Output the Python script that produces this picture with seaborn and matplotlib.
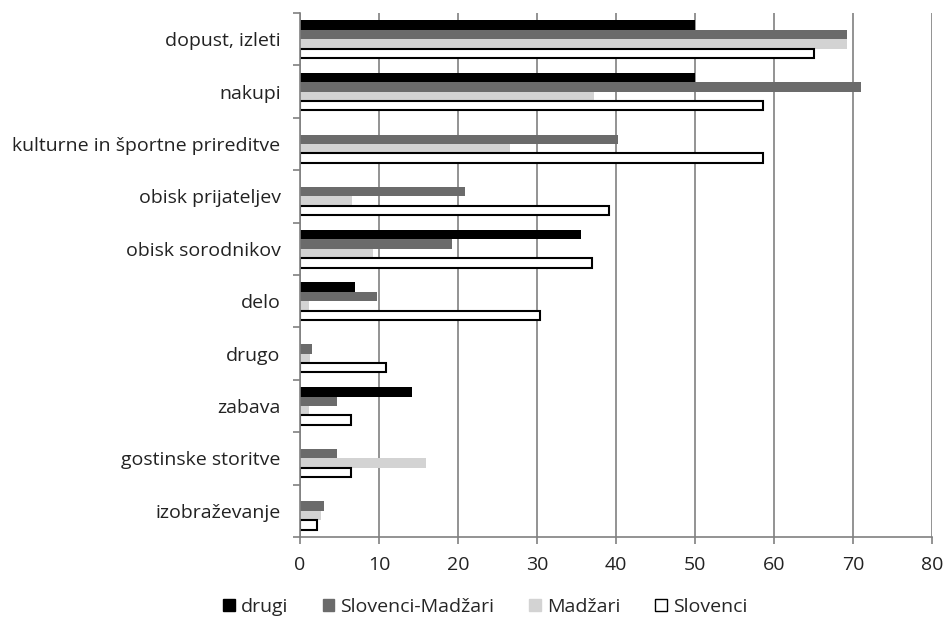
import numpy as np
import pandas as pd
import matplotlib
matplotlib.use("Agg")
import matplotlib.pyplot as plt
import seaborn as sns
from matplotlib.patches import Patch

categories = ["dopust, izleti", "nakupi", "kulturne in športne prireditve",
              "obisk prijateljev", "obisk sorodnikov", "delo", "drugo",
              "zabava", "gostinske storitve", "izobraževanje"]
series_names = ["drugi", "Slovenci-Madžari", "Madžari", "Slovenci"]
drugi = [50.0, 50.0, 0, 0, 35.6, 7.0, 0, 14.2, 0, 0]
slo_madz = [69.3, 71.0, 40.2, 20.9, 19.3, 9.7, 1.5, 4.7, 4.7, 3.1]
madzari = [69.2, 37.2, 26.6, 6.6, 9.3, 1.2, 1.3, 1.2, 15.9, 2.6]
slovenci = [65.1, 58.6, 58.6, 39.1, 36.9, 30.4, 10.9, 6.4, 6.4, 2.2]
x_ticks = [0, 10, 20, 30, 40, 50, 60, 70, 80]

colors = ["#000000", "#6b6b6b", "#d3d3d3", "#ffffff"]

rows = []
for name, vals in zip(series_names, [drugi, slo_madz, madzari, slovenci]):
    for c, v in zip(categories, vals):
        rows.append({"cat": c, "series": name, "value": v})
df = pd.DataFrame(rows)

sns.set_theme(style="white")
plt.rcParams['font.family'] = ['Open Sans', 'DejaVu Sans']

fig = plt.figure(figsize=(9.44, 6.25), dpi=100)
ax = fig.add_axes([300/944, 1 - 537/625, 632/944, 524/625])

sns.barplot(data=df, y="cat", x="value", hue="series", order=categories,
            hue_order=series_names, palette=colors, orient="h", width=0.72,
            dodge=True, ax=ax, legend=False, saturation=1)

for cont, name in zip(ax.containers, series_names):
    for p in cont:
        if name == "Slovenci":
            p.set_edgecolor("black")
            p.set_linewidth(1.5)
        else:
            p.set_edgecolor("none")
            p.set_linewidth(0)

ax.set_xlim(0, 80)
ax.set_xticks(x_ticks)
ax.set_xticklabels([str(t) for t in x_ticks], fontsize=14, color="#222222")
ax.set_ylim(len(categories) - 0.5, -0.5)
ax.set_yticks(range(len(categories)))
ax.set_yticklabels(categories, fontsize=14, color="#222222")
ax.set_xlabel("")
ax.set_ylabel("")

ax.set_axisbelow(True)
ax.xaxis.grid(True, color="#808080", linewidth=1.2)
ax.yaxis.grid(False)

for s in ["top", "right"]:
    ax.spines[s].set_visible(False)
for s in ["left", "bottom"]:
    ax.spines[s].set_visible(True)
    ax.spines[s].set_color("#808080")
    ax.spines[s].set_linewidth(1.2)

ax.tick_params(axis="y", length=0, pad=14)
ax.tick_params(axis="x", length=5, width=1.2, color="#808080", direction="out", pad=9,
               bottom=True)
ax.set_yticks(np.arange(-0.5, len(categories), 1.0), minor=True)
ax.tick_params(axis="y", which="minor", length=5, width=1.2, color="#808080", left=True)

handles = [Patch(facecolor=c, edgecolor=("black" if n == "Slovenci" else c), linewidth=1)
           for c, n in zip(colors, series_names)]
fig.legend(handles, series_names, loc="center", bbox_to_anchor=(485/944, 1 - 607/625),
           ncol=4, frameon=False, fontsize=14, handlelength=0.6, handleheight=0.6,
           handletextpad=0.3, columnspacing=1.8)

fig.savefig("out.png", dpi=100)
